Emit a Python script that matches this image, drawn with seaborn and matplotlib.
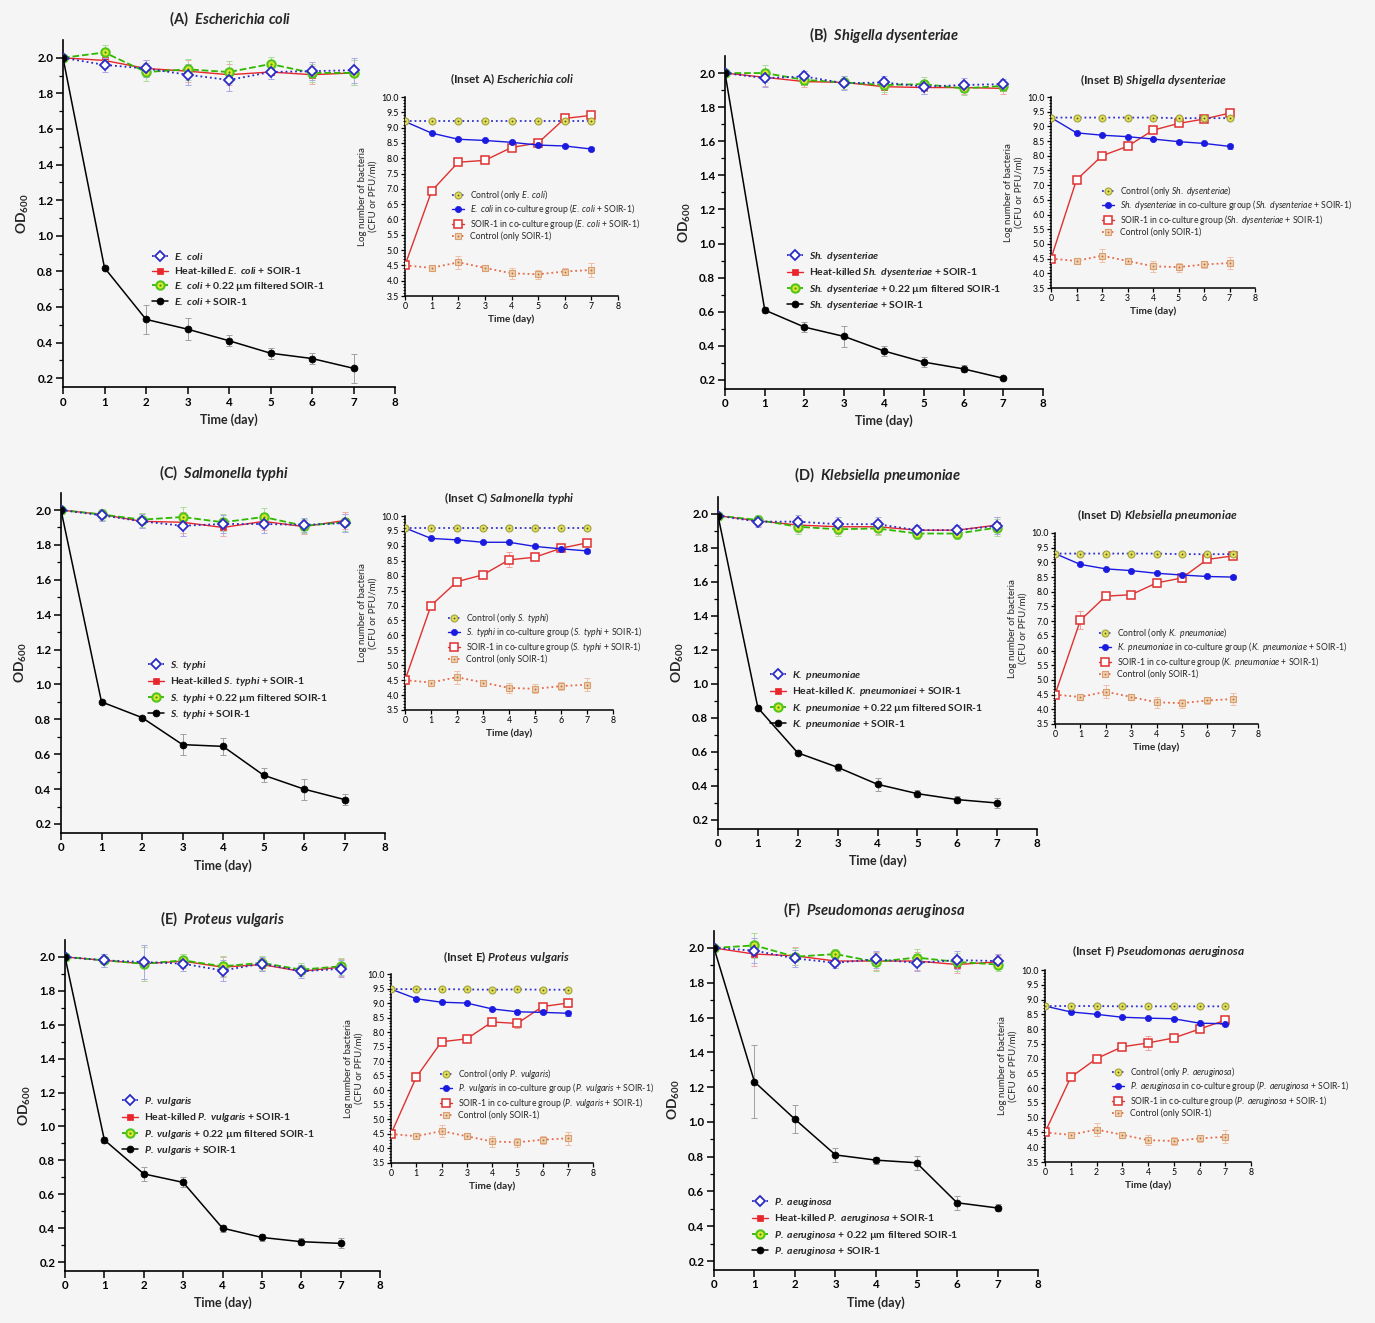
import numpy as np
import matplotlib
matplotlib.use("Agg")
import matplotlib.pyplot as plt
import seaborn as sns

# === Data ===
days = [0, 1, 2, 3, 4, 5, 6, 7]

# (A) E. coli - OD600
a_ctrl = [2.0, 1.96, 1.94, 1.905, 1.875, 1.92, 1.925, 1.93]
a_heat = [2.0, 1.985, 1.94, 1.925, 1.905, 1.92, 1.905, 1.915]
a_filt = [2.0, 2.03, 1.92, 1.935, 1.92, 1.965, 1.915, 1.915]
a_phage = [2.0, 0.82, 0.53, 0.475, 0.41, 0.34, 0.31, 0.255]
a_top_err = [0, 0.04, 0.05, 0.06, 0.06, 0.04, 0.05, 0.07]
a_phage_err = [0, 0.01, 0.08, 0.06, 0.03, 0.03, 0.03, 0.08]
# (B) Sh. dysenteriae
b_ctrl = [2.0, 1.97, 1.98, 1.94, 1.945, 1.92, 1.93, 1.935]
b_heat = [2.0, 1.975, 1.95, 1.945, 1.92, 1.915, 1.915, 1.91]
b_filt = [2.0, 2.0, 1.96, 1.945, 1.93, 1.935, 1.91, 1.925]
b_phage = [2.0, 0.61, 0.51, 0.455, 0.37, 0.305, 0.265, 0.21]
b_top_err = [0, 0.05, 0.03, 0.04, 0.04, 0.04, 0.04, 0.03]
b_phage_err = [0, 0.02, 0.03, 0.06, 0.03, 0.03, 0.02, 0.01]
# (C) S. typhi
c_ctrl = [2.0, 1.97, 1.935, 1.91, 1.92, 1.92, 1.915, 1.925]
c_heat = [2.0, 1.975, 1.935, 1.93, 1.9, 1.935, 1.905, 1.94]
c_filt = [2.0, 1.975, 1.945, 1.96, 1.93, 1.96, 1.91, 1.93]
c_phage = [2.0, 0.90, 0.81, 0.655, 0.645, 0.48, 0.40, 0.34]
c_top_err = [0, 0.03, 0.04, 0.06, 0.05, 0.05, 0.04, 0.05]
c_phage_err = [0, 0.01, 0.01, 0.06, 0.05, 0.04, 0.06, 0.03]
# (D) K. pneumoniae
d_ctrl = [1.99, 1.955, 1.955, 1.94, 1.94, 1.905, 1.905, 1.93]
d_heat = [1.99, 1.96, 1.935, 1.925, 1.925, 1.905, 1.905, 1.935]
d_filt = [1.99, 1.965, 1.925, 1.91, 1.915, 1.885, 1.885, 1.92]
d_phage = [1.99, 0.86, 0.595, 0.51, 0.41, 0.355, 0.32, 0.30]
d_top_err = [0, 0.03, 0.04, 0.04, 0.04, 0.03, 0.03, 0.05]
d_phage_err = [0, 0.01, 0.01, 0.02, 0.04, 0.02, 0.02, 0.03]
# (E) P. vulgaris
e_ctrl = [2.0, 1.98, 1.97, 1.96, 1.92, 1.96, 1.915, 1.93]
e_heat = [2.0, 1.98, 1.96, 1.975, 1.94, 1.955, 1.915, 1.94]
e_filt = [2.0, 1.98, 1.96, 1.98, 1.945, 1.965, 1.925, 1.945]
e_phage = [2.0, 0.92, 0.72, 0.67, 0.40, 0.345, 0.32, 0.31]
e_top_err = [0, 0.04, 0.1, 0.04, 0.06, 0.04, 0.04, 0.05]
e_phage_err = [0, 0.02, 0.04, 0.03, 0.02, 0.02, 0.02, 0.03]
# (F) P. aeruginosa
f_ctrl = [2.0, 1.985, 1.94, 1.915, 1.935, 1.915, 1.93, 1.925]
f_heat = [2.0, 1.965, 1.955, 1.925, 1.925, 1.925, 1.905, 1.92]
f_filt = [2.0, 2.015, 1.95, 1.965, 1.92, 1.945, 1.92, 1.905]
f_phage = [2.0, 1.23, 1.015, 0.81, 0.78, 0.765, 0.535, 0.505]
f_top_err = [0, 0.07, 0.05, 0.03, 0.05, 0.05, 0.05, 0.04]
f_phage_err = [0, 0.21, 0.08, 0.04, 0.02, 0.04, 0.04, 0.02]

# Insets - log CFU / PFU
soir_ctrl = [4.5, 4.42, 4.6, 4.42, 4.24, 4.21, 4.3, 4.35]
soir_ctrl_err = [0, 0.03, 0.22, 0.05, 0.18, 0.15, 0.13, 0.22]
co_err = [0, 0.03, 0.03, 0.03, 0.04, 0.05, 0.04, 0.08]

a_in_ctrl = [9.2, 9.2, 9.2, 9.2, 9.2, 9.2, 9.2, 9.2]
a_in_co = [9.2, 8.82, 8.62, 8.58, 8.52, 8.43, 8.4, 8.3]
a_in_soir = [4.5, 6.93, 7.87, 7.93, 8.35, 8.5, 9.3, 9.4]
a_in_soir_err = [0, 0.05, 0.08, 0.05, 0.12, 0.12, 0.08, 0.1]
b_in_ctrl = [9.3, 9.3, 9.3, 9.3, 9.3, 9.28, 9.28, 9.28]
b_in_co = [9.3, 8.78, 8.7, 8.65, 8.57, 8.48, 8.42, 8.32]
b_in_soir = [4.5, 7.18, 8.0, 8.32, 8.87, 9.1, 9.25, 9.45]
b_in_soir_err = [0, 0.05, 0.05, 0.05, 0.05, 0.05, 0.05, 0.05]
c_in_ctrl = [9.6, 9.6, 9.6, 9.6, 9.6, 9.6, 9.6, 9.6]
c_in_co = [9.6, 9.25, 9.2, 9.12, 9.12, 8.98, 8.9, 8.83]
c_in_soir = [4.5, 7.0, 7.8, 8.03, 8.53, 8.62, 8.92, 9.1]
c_in_soir_err = [0, 0.05, 0.05, 0.05, 0.25, 0.05, 0.05, 0.08]
d_in_ctrl = [9.3, 9.3, 9.3, 9.3, 9.3, 9.28, 9.28, 9.28]
d_in_co = [9.3, 8.93, 8.78, 8.72, 8.63, 8.57, 8.52, 8.5]
d_in_soir = [4.5, 7.03, 7.85, 7.9, 8.3, 8.47, 9.1, 9.22]
d_in_soir_err = [0, 0.3, 0.05, 0.05, 0.15, 0.15, 0.08, 0.08]
e_in_ctrl = [9.48, 9.48, 9.48, 9.47, 9.46, 9.47, 9.46, 9.46]
e_in_co = [9.48, 9.15, 9.03, 9.0, 8.8, 8.7, 8.68, 8.65]
e_in_soir = [4.5, 6.45, 7.67, 7.77, 8.35, 8.3, 8.88, 9.0]
e_in_soir_err = [0, 0.05, 0.05, 0.05, 0.1, 0.15, 0.12, 0.15]
f_in_ctrl = [8.78, 8.78, 8.78, 8.77, 8.77, 8.77, 8.77, 8.77]
f_in_co = [8.78, 8.58, 8.5, 8.4, 8.37, 8.35, 8.2, 8.18]
f_in_soir = [4.5, 6.37, 7.0, 7.4, 7.53, 7.7, 8.0, 8.3]
f_in_soir_err = [0, 0.05, 0.05, 0.05, 0.25, 0.05, 0.05, 0.05]

# names
letters = ["A", "B", "C", "D", "E", "F"]
full_names = ["Escherichia coli", "Shigella dysenteriae", "Salmonella typhi",
              "Klebsiella pneumoniae", "Proteus vulgaris", "Pseudomonas aeruginosa"]
short_names = ["E. coli", "Sh. dysenteriae", "S. typhi", "K. pneumoniae",
               "P. vulgaris", "P. aeruginosa"]

# === Style ===
sns.set_theme(style="ticks")
BG = "#f5f5f5"
plt.rcParams.update({
    "font.family": ["Lato", "DejaVu Sans"],
    "mathtext.fontset": "custom",
    "mathtext.rm": "Lato",
    "mathtext.it": "Lato:italic",
    "mathtext.bf": "Lato:bold",
    "mathtext.bfit": "Lato:bold:italic",
    "axes.facecolor": "none",
    "axes.edgecolor": "black",
    "xtick.color": "black",
    "ytick.color": "black",
})


def rich(s, bold=False):
    # _text_ -> italic part (mathtext)
    parts = s.split("_")
    cmd = r"\mathbfit" if bold else r"\mathit"
    out = ""
    for i, p in enumerate(parts):
        if i % 2 == 1:
            out += "$" + cmd + "{" + p.replace(" ", r"\ ") + "}$"
        else:
            out += p
    return out


W, H = 1375, 1323
fig = plt.figure(figsize=(W / 100, H / 100), dpi=100, facecolor=BG)


def add_ax(x0, x1, ytop, ybot):
    return fig.add_axes([x0 / W, 1 - ybot / H, (x1 - x0) / W, (ybot - ytop) / H])


def series(ax, y, err, color, ecolor, marker, ls, ms, mfc, mec, mew, lw, z=3):
    if err is not None:
        ax.errorbar(days, y, yerr=err, fmt="none", ecolor=ecolor, elinewidth=0.7,
                    capsize=2.5, capthick=0.7, zorder=z - 1)
    sns.lineplot(x=days, y=y, ax=ax, color=color, marker=marker, linestyle=ls,
                 markersize=ms, markerfacecolor=mfc, markeredgecolor=mec,
                 markeredgewidth=mew, linewidth=lw, zorder=z, legend=False)
    return ax.lines[-1]


main_data = [
    (a_ctrl, a_heat, a_filt, a_phage, a_top_err, a_phage_err),
    (b_ctrl, b_heat, b_filt, b_phage, b_top_err, b_phage_err),
    (c_ctrl, c_heat, c_filt, c_phage, c_top_err, c_phage_err),
    (d_ctrl, d_heat, d_filt, d_phage, d_top_err, d_phage_err),
    (e_ctrl, e_heat, e_filt, e_phage, e_top_err, e_phage_err),
    (f_ctrl, f_heat, f_filt, f_phage, f_top_err, f_phage_err),
]
inset_data = [
    (a_in_ctrl, a_in_co, a_in_soir, a_in_soir_err),
    (b_in_ctrl, b_in_co, b_in_soir, b_in_soir_err),
    (c_in_ctrl, c_in_co, c_in_soir, c_in_soir_err),
    (d_in_ctrl, d_in_co, d_in_soir, d_in_soir_err),
    (e_in_ctrl, e_in_co, e_in_soir, e_in_soir_err),
    (f_in_ctrl, f_in_co, f_in_soir, f_in_soir_err),
]

# pixel layout: main axes (x0, x8, top, bottom), inset axes, titles, legends
main_box = [(63, 395, 40, 387), (725, 1043, 56, 388.5), (61, 385, 492.6, 832.7),
            (718, 1037, 497, 828.5), (65, 380, 940, 1270.5), (714, 1038, 930.6, 1269.7)]
inset_box = [(405, 618, 97, 296), (1051, 1255, 97, 288), (405, 613, 516, 710),
             (1055, 1258, 533, 724), (391, 593, 974, 1163), (1045, 1251, 970, 1162)]
main_title_xy = [(230, 19), (884, 35), (224, 473), (878, 475), (223, 919), (874, 910)]
inset_title_xy = [(512, 79), (1154, 80), (509, 498), (1157, 515), (506, 957), (1158, 951)]
main_leg_xy = [(152, 251), (787, 250), (148, 659), (770, 669), (122, 1095), (752, 1196)]
inset_leg_xy = [(452, 188), (1102, 184), (448, 611), (1099, 626), (440, 1067), (1112, 1065)]

for k in range(6):
    ctrl, heat, filt, phage, top_err, ph_err = main_data[k]
    sn = short_names[k]
    ax = add_ax(*main_box[k])
    first_lab = "_" + sn + "_"
    heat_lab = "Heat-killed _" + sn + "_ + SOIR-1"
    if k == 3:
        heat_lab = "Heat-killed _K. pneumoniaei_ + SOIR-1"
    if k == 5:
        first_lab = "_P. aeuginosa_"
    labels = [first_lab, heat_lab, "_" + sn + "_ + 0.22 µm filtered SOIR-1", "_" + sn + "_ + SOIR-1"]

    h1 = series(ax, ctrl, top_err, "#2a2ac8", "#a8a8e8", "D", ":", 5, "white", "#2a2ac8", 1.3, 1.3, z=6)
    h2 = series(ax, heat, top_err, "#e8262b", "#f2a8a8", "s", "-", 4.5, "#e8262b", "#e8262b", 0.5, 1.0, z=4)
    h3 = series(ax, filt, top_err, "#2fb800", "#a8dc98", "o", "--", 6, "#dfe830", "#52c51a", 1.5, 1.3, z=5)
    h3d = series(ax, filt, None, "#3a9a10", None, "o", "none", 1.6, "#3a9a10", "#3a9a10", 0, 0, z=5)
    h4 = series(ax, phage, ph_err, "black", "#a0a0a0", "o", "-", 5, "black", "black", 0.5, 1.1, z=6)

    ax.set_xlim(0, 8)
    ax.set_ylim(0.15, 2.1)
    ax.set_xticks(range(9))
    ax.set_yticks(np.arange(0.2, 2.01, 0.2))
    ax.set_yticklabels([f"{v:.1f}" for v in np.arange(0.2, 2.01, 0.2)])
    ax.set_yticks(np.arange(0.2, 2.1, 0.1), minor=True)
    ax.tick_params(axis="both", which="major", length=5, width=1.1, labelsize=8.3, pad=2)
    ax.tick_params(axis="y", which="minor", length=3, width=0.9)
    for lab in ax.get_xticklabels() + ax.get_yticklabels():
        lab.set_fontweight("bold")
    sns.despine(ax=ax)
    for sp in ["left", "bottom"]:
        ax.spines[sp].set_linewidth(1.2)
    ax.set_xlabel("Time (day)", fontsize=9, fontweight="bold", labelpad=4)
    ax.set_ylabel(r"$\mathbf{OD_{600}}$", fontsize=10, labelpad=4)

    lx, ly = main_leg_xy[k]
    ax.legend([h1, h2, (h3, h3d), h4], [rich(l, bold=True) for l in labels],
              loc="upper left", bbox_to_anchor=(lx / W, 1 - ly / H), bbox_transform=fig.transFigure,
              frameon=False, prop={"weight": "bold", "size": 7.5},
              handlelength=1.5, handletextpad=0.6, labelspacing=0.32, borderpad=0, borderaxespad=0)

    tx, ty = main_title_xy[k]
    fig.text(tx / W, 1 - ty / H, rich("(" + letters[k] + ")  _" + full_names[k] + "_", bold=True),
             ha="center", va="center", fontsize=10.5, fontweight="bold")

    # === inset ===
    in_ctrl, in_co, in_soir, in_soir_err = inset_data[k]
    ia = add_ax(*inset_box[k])
    g1 = series(ia, in_ctrl, None, "#3030d0", None, "o", ":", 5, "#e2df5a", "#a0a040", 0.8, 1.3, z=6)
    g1d = series(ia, in_ctrl, None, "#555520", None, "o", "none", 1.3, "#555520", "#555520", 0, 0, z=7)
    g2 = series(ia, in_co, co_err, "#1a1ae0", "#9090e0", "o", "-", 4.5, "#1a1ae0", "#1a1ae0", 0.5, 1.0, z=5)
    g3 = series(ia, in_soir, in_soir_err, "#e03030", "#f0a0a0", "s", "-", 6, "white", "#e03030", 1.1, 1.0, z=4)
    g4 = series(ia, soir_ctrl, soir_ctrl_err, "#e86848", "#f0c0a8", "s", ":", 5, "#f0d0b0", "#d8a070", 0.8, 1.3, z=3)
    g4d = series(ia, soir_ctrl, None, "#b07040", None, "o", "none", 1.3, "#b07040", "#b07040", 0, 0, z=4)

    ia.set_xlim(0, 8)
    ia.set_ylim(3.5, 10.0)
    ia.set_xticks(range(9))
    yt = np.arange(3.5, 10.01, 0.5)
    ia.set_yticks(yt)
    ia.set_yticklabels([f"{v:.1f}" for v in yt])
    ia.set_yticks(np.arange(3.5, 10.01, 0.1), minor=True)
    ia.tick_params(axis="both", which="major", length=3, width=0.9, labelsize=6.3, pad=1.5)
    ia.tick_params(axis="y", which="minor", length=1.5, width=0.7)
    sns.despine(ax=ia)
    for sp in ["left", "bottom"]:
        ia.spines[sp].set_linewidth(1.1)
    ia.set_xlabel("Time (day)", fontsize=7.2, fontweight="bold", labelpad=2)
    ia.set_ylabel("Log number of bacteria\n(CFU or PFU/ml)", fontsize=7, labelpad=3, linespacing=1.1)

    in_labels = ["Control (only _" + sn + "_)",
                 "_" + sn + "_ in co-culture group (_" + sn + "_ + SOIR-1)",
                 "SOIR-1 in co-culture group (_" + sn + "_ + SOIR-1)",
                 "Control (only SOIR-1)"]
    lx, ly = inset_leg_xy[k]
    ia.legend([(g1, g1d), g2, g3, (g4, g4d)], [rich(l) for l in in_labels],
              loc="upper left", bbox_to_anchor=(lx / W, 1 - ly / H), bbox_transform=fig.transFigure,
              frameon=False, fontsize=6.2, handlelength=1.4, handletextpad=0.7,
              labelspacing=0.05, borderpad=0, borderaxespad=0)

    tx, ty = inset_title_xy[k]
    fig.text(tx / W, 1 - ty / H, rich("(Inset " + letters[k] + ") _" + full_names[k] + "_", bold=True),
             ha="center", va="center", fontsize=8.5, fontweight="bold")

fig.savefig("out.png", dpi=100, facecolor=BG)
